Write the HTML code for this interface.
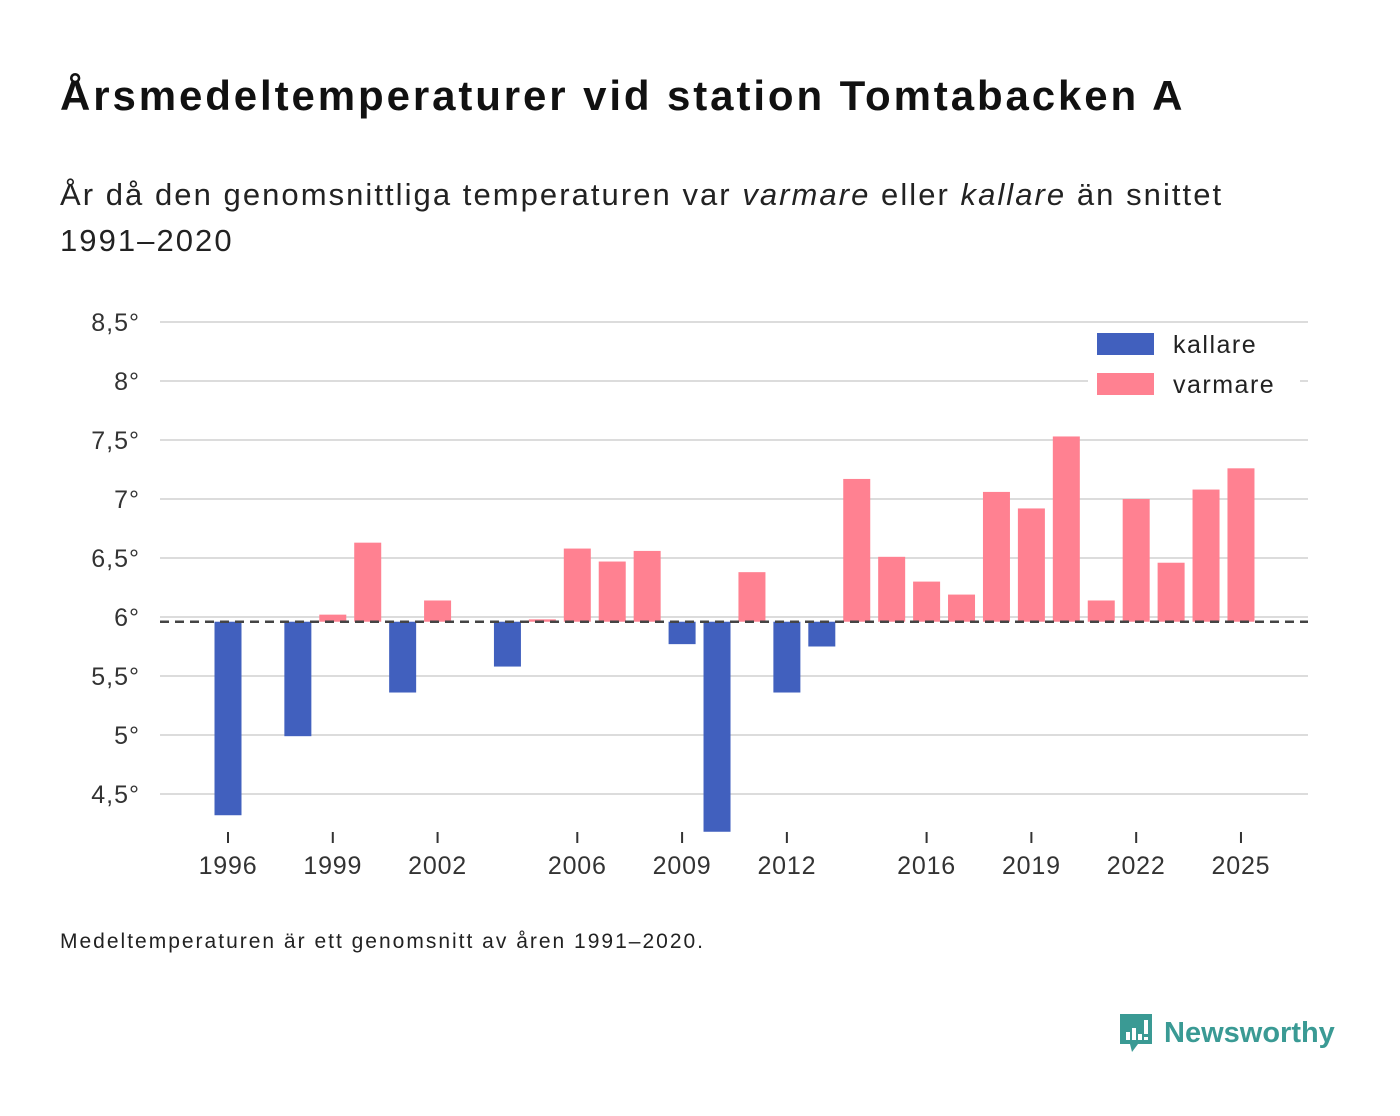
<!DOCTYPE html>
<html><head><meta charset="utf-8"><style>
body{margin:0;background:#fff;font-family:"Liberation Sans",sans-serif;color:#111;}
#wrap{position:relative;width:1400px;height:1116px;overflow:hidden;}
h1{position:absolute;left:60px;top:72px;margin:0;font-size:42px;font-weight:bold;color:#111;letter-spacing:2.9px;}
.sub{position:absolute;left:60px;top:172px;font-size:31px;line-height:46px;color:#222;letter-spacing:2.05px;}
.note{position:absolute;left:60px;top:930px;font-size:21px;color:#222;letter-spacing:2px;}
.logo{position:absolute;left:1118px;top:1012px;display:flex;align-items:center;}
.logo span{font-size:29px;font-weight:bold;color:#3a9a94;margin-left:10px;}
</style></head><body><div id="wrap">
<h1>Årsmedeltemperaturer vid station Tomtabacken A</h1>
<div class="sub">År då den genomsnittliga temperaturen var <i>varmare</i> eller <i>kallare</i> än snittet<br>1991–2020</div>
<svg id="chart" width="1400" height="900" style="position:absolute;left:0;top:0"></svg>
<div class="note">Medeltemperaturen är ett genomsnitt av åren 1991–2020.</div>
<div class="logo">
<svg width="36" height="42" viewBox="0 0 36 42"><path d="M2 2H34V32H20L14 40L12 32H2Z" fill="#3a9a94"/><rect x="8" y="20" width="4" height="8" fill="#fff"/><rect x="14" y="16" width="4" height="12" fill="#fff"/><rect x="20" y="22" width="4" height="6" fill="#fff"/><rect x="26" y="8" width="4" height="14" fill="#fff"/><rect x="26" y="25" width="4" height="3" fill="#fff"/></svg>
<span>Newsworthy</span></div>
</div>
<script>
const years=[1996,1997,1998,1999,2000,2001,2002,2003,2004,2005,2006,2007,2008,2009,2010,2011,2012,2013,2014,2015,2016,2017,2018,2019,2020,2021,2022,2023,2024,2025];
const temps=[4.32,5.96,4.99,6.02,6.63,5.36,6.14,5.96,5.58,5.98,6.58,6.47,6.56,5.77,4.18,6.38,5.36,5.75,7.17,6.51,6.30,6.19,7.06,6.92,7.53,6.14,7.00,6.46,7.08,7.26];
const baseline=5.96;
const yTicks=[4.5,5,5.5,6,6.5,7,7.5,8,8.5];
const yTickLabels=["4,5°","5°","5,5°","6°","6,5°","7°","7,5°","8°","8,5°"];
const xTicks=[1996,1999,2002,2006,2009,2012,2016,2019,2022,2025];
const NS="http://www.w3.org/2000/svg";
const svg=document.getElementById('chart');
const y=v=>617-(v-6)*118;
const x=yr=>228+(yr-1996)*34.93;
function el(t,a,p){const e=document.createElementNS(NS,t);for(const k in a)e.setAttribute(k,a[k]);(p||svg).appendChild(e);return e;}
yTicks.forEach((v,i)=>{
 const g=el('line',{x1:160,x2:1308,y1:y(v),y2:y(v),stroke:'#dcdcdc','stroke-width':2});
 
 
 const t=el('text',{x:140,y:y(v)+9,'text-anchor':'end','font-size':25,fill:'#333','font-family':'Liberation Sans, sans-serif','letter-spacing':1});
 t.textContent=yTickLabels[i];
 
 
});
years.forEach((yr,i)=>{
 const v=temps[i];
 const warm=v>=baseline;
 const top=Math.min(y(v),y(baseline)),h=Math.abs(y(v)-y(baseline));
 const r=el('rect',{x:x(yr)-13.5,y:top,width:27,height:h,fill:warm?'#ff8191':'#4160be'});
 
 
});
const bl=el('line',{x1:160,x2:1308,y1:y(baseline),y2:y(baseline),stroke:'#444','stroke-width':2.5,'stroke-dasharray':'9,6'});


xTicks.forEach(yr=>{
 const tk=el('line',{x1:x(yr),x2:x(yr),y1:832,y2:843,stroke:'#333','stroke-width':2});
 
 
 const t=el('text',{x:x(yr),y:874,'text-anchor':'middle','font-size':25,fill:'#333','font-family':'Liberation Sans, sans-serif','letter-spacing':0.8});
 t.textContent=yr;
 
 
});
const lg=el('rect',{x:1088,y:326,width:212,height:82,fill:'#fff'});


[['kallare','#4160be',344],['varmare','#ff8191',384]].forEach(([n,c,cy])=>{
 const s=el('rect',{x:1097,y:cy-11,width:57,height:22,fill:c});
 
 
 const t=el('text',{x:1173,y:cy+9,'font-size':25,fill:'#222','font-family':'Liberation Sans, sans-serif','letter-spacing':1.5});
 t.textContent=n;
 
 
});
</script></body></html>
